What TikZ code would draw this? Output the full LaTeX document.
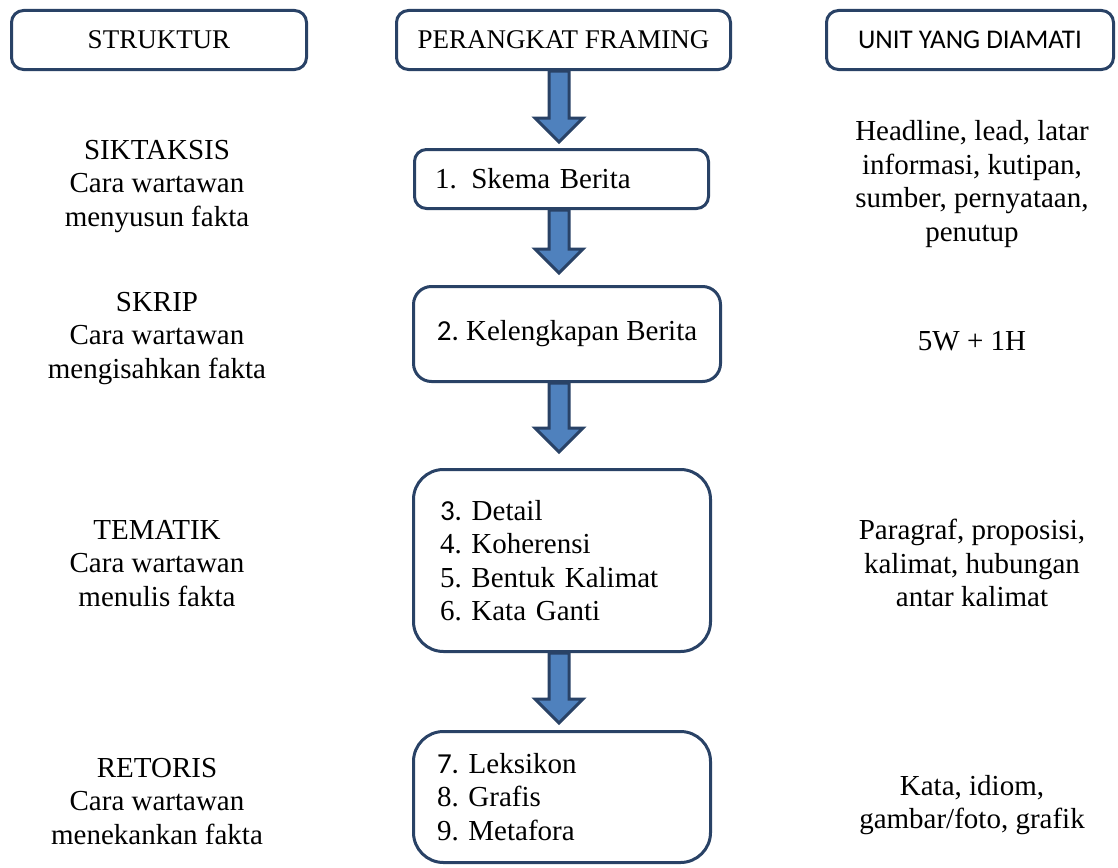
\documentclass[tikz,border=0pt]{standalone}
\usepackage{fontspec}
\setmainfont{Liberation Serif}
\newfontfamily\calibri{Carlito}
\usepackage{tikz}
\usetikzlibrary{calc}
\usetikzlibrary{positioning}
\definecolor{boxline}{HTML}{294266}
\definecolor{arrowfill}{HTML}{4F81BD}
\newcommand{\bodysize}{\fontsize{29}{33.5}\selectfont\frenchspacing}
\newcommand{\headsize}{\fontsize{27}{31}\selectfont\frenchspacing}
\tikzset{framebox/.style={draw=boxline,line width=3pt,fill=white,inner sep=0pt,font=\bodysize}}
\tikzset{headbox/.style={framebox,minimum height=59pt,rounded corners=12pt,font=\headsize}}
\tikzset{sidetext/.style={align=center,inner sep=0pt,font=\bodysize}}
\tikzset{blockarr/.style={draw=boxline,fill=arrowfill,line width=3pt}}

\begin{document}
\begin{tikzpicture}[x=1pt,y=-1pt]
\fill[white] (0,0) rectangle (1118,867);

% column heads
\node (hStruktur) at (159,40) [headbox,minimum width=295pt] {STRUKTUR};
\node (hPerangkat) at (563.5,40) [headbox,minimum width=334pt] {PERANGKAT FRAMING};
\node (hUnit) at (970,40) [headbox,minimum width=287pt] {\calibri UNIT YANG DIAMATI};

% framing devices
\node (bSkema) at (561.5,179) [framebox,minimum height=59pt,rounded corners=12pt,
	text width=253pt,inner xsep=20.5pt,align=left] {1.\hspace{0.5em}Skema Berita};
\node (bKelengkapan) at (567,334) [framebox,minimum width=307pt,minimum height=95pt,
	rounded corners=18pt,align=center] {{\calibri 2.} Kelengkapan Berita};
\node (bTematik) at (562,560.5) [framebox,minimum height=182pt,rounded corners=30pt,
	text width=244pt,inner xsep=26.5pt,align=left]
	{{\calibri 3.} Detail\\4. Koherensi\\5. Bentuk Kalimat\\6. Kata Ganti};
\node (bRetoris) at (562,797) [framebox,minimum height=131pt,rounded corners=30pt,
	text width=250pt,inner xsep=23.5pt,align=left]
	{{\calibri 7.} Leksikon\\8. Grafis\\9. Metafora};

% structures
\node (tSiktaksis) at (157,186.5) [sidetext] {SIKTAKSIS\\Cara wartawan\\menyusun fakta};
\node (tSkrip) at (157,338.5) [sidetext] {SKRIP\\Cara wartawan\\mengisahkan fakta};
\node (tTematik) at (157,563.5) [sidetext] {TEMATIK\\Cara wartawan\\menulis fakta};
\node (tRetoris) at (157,801.5) [sidetext] {RETORIS\\Cara wartawan\\menekankan fakta};

% observed units
\node (uSkema) at (972,184) [sidetext] {Headline, lead, latar\\informasi, kutipan,\\sumber, pernyataan,\\penutup};
\node (uKelengkapan) at (972,350) [sidetext,anchor=base] {5W + 1H};
\node (uTematik) at (972,563) [sidetext] {Paragraf, proposisi,\\kalimat, hubungan\\antar kalimat};
\node (uRetoris) at (972,805) [sidetext] {Kata, idiom,\\gambar/foto, grafik};

% block arrows
\coordinate (ax) at (559,0);
\foreach \src / \dst / \gap in {hPerangkat/bSkema/6,bSkema/bKelengkapan/12,bKelengkapan/bTematik/16,bTematik/bRetoris/7}
{
	\coordinate (s) at (\src.south -| ax);
	\coordinate (t) at ($ (\dst.north -| ax)+(0,-\gap) $);
	\draw[blockarr] ($ (s)+(-10,0) $) -- ($ (t)+(-10,-24) $) -- ($ (t)+(-24,-24) $) -- (t)
		-- ($ (t)+(24,-24) $) -- ($ (t)+(10,-24) $) -- ($ (s)+(10,0) $) -- cycle;
}
\end{tikzpicture}
\end{document}
